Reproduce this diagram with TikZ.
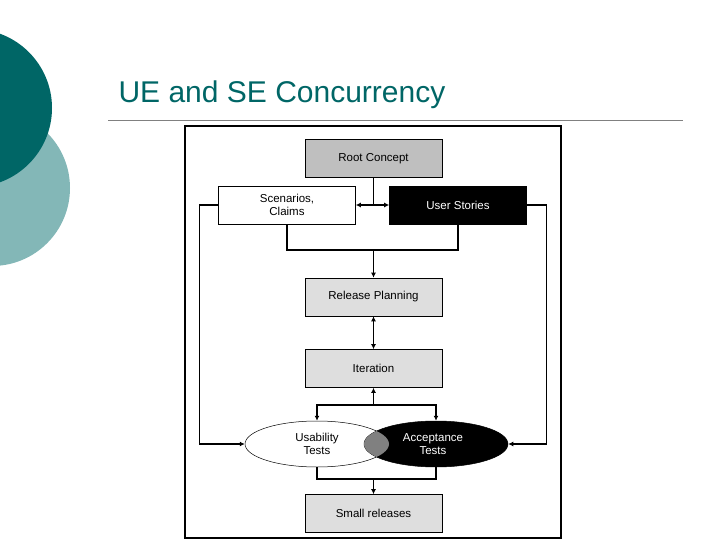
\documentclass[tikz,border=0pt]{standalone}
\usepackage{fontspec}
\setmainfont{Liberation Sans}
\usetikzlibrary{arrows.meta,shapes.geometric}
\begin{document}
\begin{tikzpicture}[x=1pt,y=-1pt,
  box/.style={draw,line width=0.6pt,minimum width=137pt,minimum height=38pt,font=\fontsize{11.5}{13}\selectfont,align=center,inner sep=0pt},
  con/.style={line width=1.1pt},
  arr/.style={con,-{Latex[length=5pt,width=5pt]}},
  darr/.style={con,{Latex[length=5pt,width=5pt]}-{Latex[length=5pt,width=5pt]}},
  ell/.style={draw,ellipse,minimum width=144pt,minimum height=46pt,inner sep=0pt,line width=0.5pt}]
\useasboundingbox (0,0) rectangle (720,540);
\begin{scope}
\clip (0,0) rectangle (720,540);
\fill[teal!35!white!80!cyan!60!gray] (-8,188) circle (78);
\fill[teal!80!black] (-27,108) circle (79);
\end{scope}
\node[anchor=base west,text=teal!80!black,font=\fontsize{30}{34}\selectfont] (title) at (115,103) {UE and SE Concurrency};
\draw[gray,line width=0.8pt] (108,120) -- (683,120);
\draw[line width=2.8pt] (185,126) rectangle (561,538);
\node[box,fill=black!25] (root) at (373.5,158.5) {Root Concept};
\node[box,fill=white] (scen) at (287,205) {Scenarios,\\Claims};
\node[box,fill=black,text=white] (us) at (458,205) {User Stories};
\node[box,fill=black!13] (rel) at (373.5,297) {Release Planning};
\node[box,fill=black!13] (it) at (373.5,368.5) {Iteration};
\node[box,fill=black!13] (sm) at (373.5,513.5) {Small releases};
\node[ell,fill=white] (ua) at (317,444) {};
\node[ell,fill=black] (at) at (436,444) {};
\begin{scope}
\clip (317,444) ellipse (72 and 23);
\fill[black!50] (436,444) ellipse (72 and 23);
\end{scope}
\node[font=\fontsize{11.5}{13}\selectfont,align=center] (ut) at (317,444) {Usability\\Tests};
\node[font=\fontsize{11.5}{13}\selectfont,align=center,text=white] (att) at (433,444) {Acceptance\\Tests};
\coordinate (j1) at (373.5,205);
\coordinate (j2) at (373.5,250);
\coordinate (j3) at (373.5,405);
\coordinate (j4) at (373.5,479);
\draw[con] (root.south) -- (j1);
\draw[arr] (j1) -- (scen.east);
\draw[arr] (j1) -- (us.west);
\draw[con] (scen.south) |- (j2) -| (us.south);
\draw[arr] (j2) -- (rel.north);
\draw[darr] (rel.south) -- (it.north);
\draw[arr] (j3) -- (it.south);
\draw[arr] (j3) -| (ua.north);
\draw[arr] (j3) -| (at.north);
\draw[con] (ua.south) |- (j4) -| (at.south);
\draw[arr] (j4) -- (sm.north);
\draw[arr] (scen.west) -- ++(-19,0) |- (ua.west);
\draw[arr] (us.east) -- ++(20,0) |- (at.east);
\end{tikzpicture}
\end{document}
